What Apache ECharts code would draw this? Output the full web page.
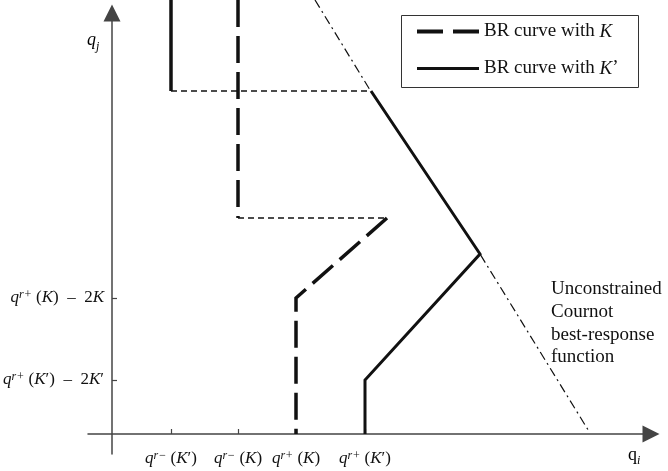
<!DOCTYPE html>
<html>
<head>
<meta charset="utf-8">
<script src="https://cdn.jsdelivr.net/npm/echarts@6/dist/echarts.min.js"></script>
<style>html,body{margin:0;padding:0;background:#fff}#c{width:668px;height:471px}</style>
</head>
<body>
<div id="c"></div>
<script>
// ---- data (arbitrary quantity units) ----
const xTickValues = [59, 126, 184, 253];
const xTickLabels = ['{q|q}{s|r−}{n| (}{k|K}{n|′)}', '{q|q}{s|r−}{n| (}{k|K}{n|)}', '{q|q}{s|r+}{n| (}{k|K}{n|)}', '{q|q}{s|r+}{n| (}{k|K}{n|′)}'];
const yTickValues = [136, 54];
const yTickLabels = ['{q|q}{s|r+}{n| (}{k|K}{n|)  –  2}{k|K}', '{q|q}{s|r+}{n| (}{k|K}{n|′)  –  2}{k|K}{n|′}'];

const cournotLine = [[203, 434], [258, 344], [368, 180], [478, 1]];
const brKPrimeTop = [[59, 434], [59, 343]];
const brKPrimeJump = [[59, 343], [259, 343]];
const brKPrimeMain = [[259, 343], [368, 180], [253, 54], [253, 0]];
const brKTop = [[126, 434], [126, 216]];
const brKJump = [[126, 216], [275, 216]];
const brKMain = [[275, 216], [184, 136], [184, 0]];

const nameK = 'BR curve with K';
const nameKp = 'BR curve with K’';

const serif = '"Liberation Serif", "DejaVu Serif", serif';
const ink = '#111';
const richLbl = {
  q: {fontFamily: serif, fontSize: 17, fontStyle: 'italic', color: ink, lineHeight: 18},
  s: {fontFamily: serif, fontSize: 12, fontStyle: 'italic', color: ink, verticalAlign: 'top', lineHeight: 12},
  n: {fontFamily: serif, fontSize: 17, color: ink, lineHeight: 18},
  k: {fontFamily: serif, fontSize: 17, fontStyle: 'italic', color: ink, lineHeight: 18}
};

const chart = echarts.init(document.getElementById('c'));
const thick = 3;
function seg(name, data, style) {
  return {type: 'line', name: name, data: data, symbol: 'none', clip: false, silent: true,
    itemStyle: {color: ink},
    lineStyle: Object.assign({color: ink, cap: 'butt', join: 'miter'}, style), z: 3};
}
chart.setOption({
  animation: false,
  grid: {left: 88, right: 17, top: 13, bottom: 17, containLabel: false, outerBoundsMode: 'none'},
  xAxis: {
    type: 'value', min: -24, max: 539,
    axisLine: {onZero: true, symbol: ['none', 'triangle'], symbolSize: [17, 17], lineStyle: {color: '#444', width: 1.5}},
    axisTick: {show: true, inside: true, length: 5, customValues: xTickValues, lineStyle: {color: '#444', width: 1.2}},
    axisLabel: {customValues: xTickValues, margin: -4, padding: 0, rich: richLbl,
      formatter: v => xTickLabels[xTickValues.indexOf(v)] || ''},
    splitLine: {show: false}
  },
  yAxis: {
    type: 'value', min: -20, max: 421,
    axisLine: {onZero: true, symbol: ['none', 'triangle'], symbolSize: [17, 17], lineStyle: {color: '#444', width: 1.5}},
    axisTick: {show: true, inside: true, length: 5, customValues: yTickValues, lineStyle: {color: '#444', width: 1.2}},
    axisLabel: {customValues: yTickValues, margin: -16, padding: 0, rich: richLbl,
      formatter: v => yTickLabels[yTickValues.indexOf(v)] || ''},
    splitLine: {show: false}
  },
  legend: {
    left: 412, top: 17, orient: 'vertical', itemGap: 18, itemWidth: 62, itemHeight: 4,
    itemStyle: {color: ink},
    data: [
      {name: nameK, icon: 'path://M0,0H26V4H0Z M36,0H62V4H36Z'},
      {name: nameKp, icon: 'path://M0,0H62V3H0Z'}
    ],
    formatter: n => n === nameK ? '{t|BR curve with }{i|K}' : '{t|BR curve with }{i|K}{t|’}',
    textStyle: {rich: {
      t: {fontFamily: serif, fontSize: 19, color: ink, lineHeight: 20},
      i: {fontFamily: serif, fontSize: 19, fontStyle: 'italic', color: ink, lineHeight: 20}
    }}
  },
  graphic: [
    {type: 'rect', shape: {x: 401.5, y: 15.5, width: 237, height: 72}, style: {fill: 'none', stroke: '#333', lineWidth: 1}, z: 1},
    {type: 'text', left: 551, top: 278, style: {text: 'Unconstrained\nCournot\nbest-response\nfunction', font: '19px ' + serif, fill: ink, lineHeight: 22.7}},
    {type: 'text', left: 87, top: 31, style: {text: '{q|q}{j|j}', rich: {
      q: {fontFamily: serif, fontSize: 18, fontStyle: 'italic', color: ink},
      j: {fontFamily: serif, fontSize: 12, fontStyle: 'italic', color: ink, verticalAlign: 'bottom', lineHeight: 26}
    }}},
    {type: 'text', left: 628, top: 446, style: {text: '{q|q}{i|i}', rich: {
      q: {fontFamily: serif, fontSize: 18, color: ink},
      i: {fontFamily: serif, fontSize: 12, fontStyle: 'italic', color: ink, verticalAlign: 'bottom', lineHeight: 24}
    }}}
  ],
  series: [
    seg('cournot', cournotLine, {width: 1.2, type: [9, 4, 2, 4]}),
    seg(nameKp, brKPrimeTop, {width: thick + 0.5, type: 'solid'}),
    seg('kpjump', brKPrimeJump, {width: 1.3, type: [6, 4]}),
    seg(nameKp, brKPrimeMain, {width: thick, type: 'solid'}),
    seg(nameK, brKTop, {width: thick + 0.5, type: [27, 9]}),
    seg('kjump', brKJump, {width: 1.3, type: [6, 4]}),
    seg(nameK, brKMain, {width: thick + 0.5, type: [27, 9]})
  ]
});
</script>
</body>
</html>
